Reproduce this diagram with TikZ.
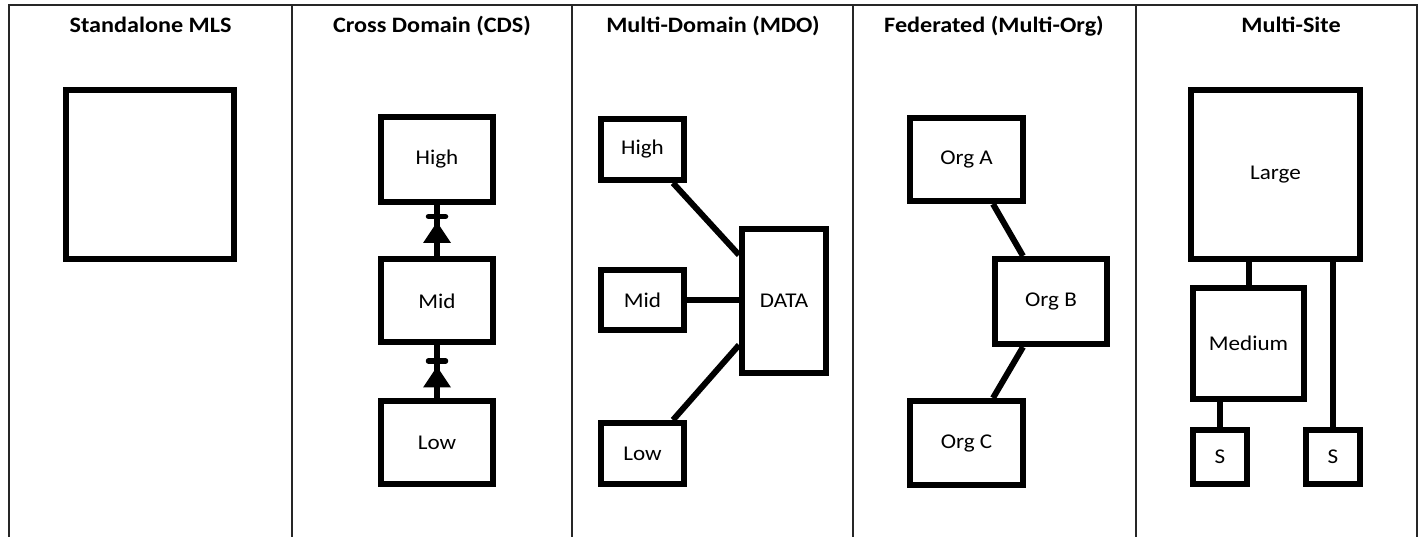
\documentclass[tikz,border=0pt]{standalone}
\usepackage{fontspec}
\setmainfont{Carlito}[FakeStretch=1.1]
\tikzset{
  box/.style={draw, line width=6pt, inner sep=0pt, font=\fontsize{21}{24}\selectfont},
  conn/.style={line width=6pt},
  grid/.style={line width=2pt, draw=black!85},
  head/.style={anchor=base, font=\fontsize{22}{26}\selectfont\bfseries},
  diode/.pic={
    \fill (-14,20) -- (14,20) -- (0,-1) -- cycle;
    \draw[line width=5.5pt, line cap=round] (-8.5,-6.5) -- (8.5,-6.5);
  }
}
\begin{document}
\begin{tikzpicture}[x=1pt, y=-1pt]
\useasboundingbox (0,0) rectangle (1425,537);
% table grid
\draw[grid] (9,537) -- (9,5) -- (1417,5) -- (1417,537);
\foreach \xx in {292,572,853,1136} \draw[grid] (\xx,5) -- (\xx,537);
% headers
\node[head] (h1) at (150.5,33) {Standalone MLS};
\node[head] (h2) at (432,33) {Cross Domain (CDS)};
\node[head] (h3) at (713,33) {Multi-Domain (MDO)};
\node[head] (h4) at (994,33) {Federated (Multi-Org)};
\node[head] (h5) at (1291,33) {Multi-Site};
% column 1
\node[box, minimum width=168pt, minimum height=169pt] (mls) at (150,174.5) {};
% column 2 (CDS)
\node[box, minimum width=112pt, minimum height=85pt] (chigh) at (437,159.5) {High};
\node[box, minimum width=112pt, minimum height=83pt] (cmid) at (437,301) {Mid};
\node[box, minimum width=112pt, minimum height=83pt] (clow) at (437,442.5) {Low};
\draw[conn] (cmid.north) -- (chigh.south);
\draw[conn] (clow.north) -- (cmid.south);
\pic at ([yshift=-18pt]chigh.south) {diode};
\pic at ([yshift=-22pt]cmid.south) {diode};
% column 3 (MDO)
\node[box, minimum width=83pt, minimum height=61pt] (mhigh) at (642.5,149.5) {High};
\node[box, minimum width=83pt, minimum height=60pt] (mmid) at (642.5,300) {Mid};
\node[box, minimum width=83pt, minimum height=61pt] (mlow) at (642.5,453.5) {Low};
\node[box, minimum width=84pt, minimum height=144pt] (data) at (784,301) {DATA};
\draw[conn] ([xshift=-14pt]mhigh.south east) -- ([yshift=46pt]data.west);
\draw[conn] (mmid.east) -- (mmid.east -| data.west);
\draw[conn] ([xshift=-14pt]mlow.north east) -- ([yshift=-44pt]data.west);
% column 4 (Federated)
\node[box, minimum width=113pt, minimum height=83pt] (orga) at (966.5,159.5) {Org A};
\node[box, minimum width=112pt, minimum height=85pt] (orgb) at (1051,301.5) {Org B};
\node[box, minimum width=113pt, minimum height=84pt] (orgc) at (966.5,443) {Org C};
\draw[conn] ([xshift=26.5pt]orga.south) -- ([xshift=-28pt]orgb.north);
\draw[conn] ([xshift=-28pt]orgb.south) -- ([xshift=26.5pt]orgc.north);
% column 5 (Multi-Site)
\node[box, minimum width=169pt, minimum height=169pt] (large) at (1275.5,174.5) {Large};
\node[box, minimum width=111pt, minimum height=111pt] (medium) at (1248.5,343.5) {Medium};
\node[box, minimum width=54pt, minimum height=54pt] (sa) at (1220,457) {S};
\node[box, minimum width=54pt, minimum height=54pt] (sb) at (1333,457) {S};
\draw[conn] (medium.north) -- (medium.north |- large.south);
\draw[conn] (sb.north) -- (sb.north |- large.south);
\draw[conn] (sa.north) -- (sa.north |- medium.south);
\end{tikzpicture}
\end{document}
